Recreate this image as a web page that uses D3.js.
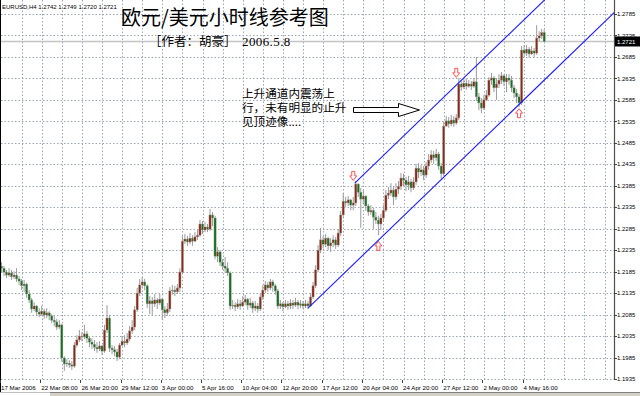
<!DOCTYPE html>
<html><head><meta charset="utf-8">
<script src="https://cdn.jsdelivr.net/npm/d3@7"></script>
<style>html,body{margin:0;padding:0;background:#fff;overflow:hidden}</style>
</head><body>
<script>
// ---------------- DATA ----------------
const symbolInfo = "EURUSD,H4  1.2742 1.2749 1.2720 1.2721";
const chartTitle = "欧元/美元小时线参考图";
const authorText = "［作者：胡豪］";
const dateText = "2006.5.8";
const noteLines = ["上升通道内震荡上", "行，未有明显的止升", "见顶迹像...."];

const firstOpen = 1.2198;
const closes = [1.2193,1.2184,1.2177,1.2182,1.2173,1.2177,1.2168,1.2163,1.2152,1.2156,
1.2133,1.2119,1.2098,1.2105,1.2091,1.2086,1.2093,1.2084,1.2089,1.2082,
1.2072,1.2068,1.2056,1.2061,1.1984,1.1970,1.1972,1.1968,1.1965,1.2014,
1.2026,1.2035,1.2033,1.2040,1.2030,1.2021,1.2016,1.2009,1.2005,1.2012,
1.2000,1.2049,1.2077,1.2007,1.2003,1.1998,1.1986,1.2014,1.2023,1.2019,
1.2028,1.2047,1.2056,1.2096,1.2135,1.2154,1.2161,1.2152,1.2110,1.2117,
1.2110,1.2119,1.2112,1.2121,1.2096,1.2089,1.2098,1.2140,1.2142,1.2138,
1.2147,1.2184,1.2256,1.2261,1.2254,1.2263,1.2256,1.2266,1.2270,1.2296,
1.2282,1.2289,1.2284,1.2317,1.2310,1.2221,1.2231,1.2207,1.2198,1.2193,
1.2182,1.2105,1.2107,1.2103,1.2110,1.2105,1.2114,1.2121,1.2107,1.2112,
1.2100,1.2105,1.2098,1.2126,1.2142,1.2154,1.2147,1.2161,1.2152,1.2140,
1.2105,1.2110,1.2103,1.2110,1.2105,1.2112,1.2107,1.2114,1.2107,1.2110,
1.2105,1.2110,1.2105,1.2126,1.2152,1.2189,1.2235,1.2259,1.2249,1.2263,
1.2245,1.2252,1.2259,1.2247,1.2275,1.2317,1.2349,1.2345,1.2352,1.2340,
1.2345,1.2389,1.2370,1.2354,1.2361,1.2338,1.2324,1.2328,1.2312,1.2305,
1.2296,1.2310,1.2328,1.2363,1.2368,1.2375,1.2359,1.2377,1.2384,1.2403,
1.2398,1.2387,1.2394,1.2380,1.2394,1.2426,1.2417,1.2422,1.2410,1.2431,
1.2445,1.2457,1.2450,1.2459,1.2431,1.2413,1.2524,1.2536,1.2529,1.2538,
1.2531,1.2543,1.2622,1.2615,1.2624,1.2617,1.2622,1.2617,1.2627,1.2592,
1.2578,1.2566,1.2585,1.2596,1.2631,1.2636,1.2613,1.2622,1.2631,1.2641,
1.2627,1.2636,1.2631,1.2613,1.2601,1.2592,1.2578,1.2701,1.2694,1.2703,
1.2692,1.2699,1.2694,1.2729,1.2734,1.2742,1.2721];
const highs = [1.2207,1.2198,1.2189,1.2193,1.2189,1.2186,1.2193,1.2175,1.2168,1.2166,
1.2159,1.2142,1.2124,1.2114,1.2107,1.2100,1.2105,1.2098,1.2100,1.2093,
1.2086,1.2082,1.2075,1.2072,1.2063,1.1988,1.1981,1.1979,1.1977,1.2021,
1.2037,1.2049,1.2044,1.2061,1.2047,1.2035,1.2030,1.2026,1.2021,1.2023,
1.2014,1.2061,1.2107,1.2084,1.2014,1.2012,1.2005,1.2019,1.2035,1.2037,
1.2042,1.2058,1.2072,1.2105,1.2147,1.2168,1.2173,1.2168,1.2156,1.2128,
1.2126,1.2133,1.2124,1.2133,1.2124,1.2105,1.2112,1.2149,1.2154,1.2152,
1.2156,1.2193,1.2268,1.2273,1.2268,1.2275,1.2270,1.2277,1.2284,1.2305,
1.2303,1.2301,1.2296,1.2331,1.2324,1.2315,1.2242,1.2235,1.2214,1.2219,
1.2207,1.2186,1.2119,1.2114,1.2121,1.2119,1.2128,1.2131,1.2124,1.2124,
1.2117,1.2117,1.2112,1.2135,1.2154,1.2163,1.2161,1.2168,1.2166,1.2156,
1.2145,1.2119,1.2114,1.2119,1.2117,1.2121,1.2119,1.2124,1.2119,1.2119,
1.2117,1.2119,1.2117,1.2135,1.2161,1.2200,1.2247,1.2287,1.2268,1.2273,
1.2266,1.2263,1.2270,1.2266,1.2284,1.2326,1.2368,1.2359,1.2361,1.2354,
1.2359,1.2396,1.2391,1.2380,1.2375,1.2363,1.2343,1.2340,1.2333,1.2324,
1.2315,1.2319,1.2340,1.2375,1.2382,1.2391,1.2384,1.2391,1.2396,1.2415,
1.2413,1.2405,1.2408,1.2401,1.2405,1.2436,1.2438,1.2433,1.2431,1.2440,
1.2459,1.2468,1.2466,1.2471,1.2464,1.2438,1.2534,1.2547,1.2545,1.2550,
1.2547,1.2552,1.2636,1.2631,1.2634,1.2634,1.2631,1.2629,1.2636,1.2685,
1.2601,1.2589,1.2596,1.2608,1.2638,1.2648,1.2641,1.2636,1.2645,1.2650,
1.2645,1.2645,1.2645,1.2641,1.2620,1.2610,1.2599,1.2710,1.2713,1.2713,
1.2708,1.2710,1.2706,1.2759,1.2745,1.2750,1.2749];
const lows = [1.2184,1.2175,1.2170,1.2173,1.2166,1.2168,1.2161,1.2154,1.2142,1.2138,
1.2124,1.2112,1.2089,1.2093,1.2082,1.2079,1.2082,1.2075,1.2077,1.2072,
1.2065,1.2058,1.2049,1.2051,1.1975,1.1954,1.1963,1.1961,1.1956,1.1961,
1.2009,1.2021,1.2023,1.2028,1.2019,1.2009,1.2005,1.2000,1.1996,1.2000,
1.1991,1.1996,1.2042,1.1998,1.1993,1.1988,1.1977,1.1981,1.2012,1.2009,
1.2014,1.2023,1.2040,1.2049,1.2091,1.2128,1.2147,1.2142,1.2100,1.2086,
1.2084,1.2103,1.2098,1.2107,1.2072,1.2077,1.2082,1.2091,1.2131,1.2128,
1.2133,1.2138,1.2180,1.2249,1.2245,1.2249,1.2245,1.2254,1.2259,1.2266,
1.2273,1.2277,1.2277,1.2280,1.2291,1.2214,1.2207,1.2198,1.2189,1.2182,
1.2175,1.2096,1.2098,1.2093,1.2098,1.2096,1.2103,1.2107,1.2096,1.2100,
1.2089,1.2093,1.2089,1.2093,1.2119,1.2135,1.2138,1.2142,1.2138,1.2131,
1.2098,1.2098,1.2093,1.2100,1.2096,1.2098,1.2098,1.2103,1.2098,1.2100,
1.2098,1.2100,1.2098,1.2103,1.2121,1.2147,1.2184,1.2228,1.2240,1.2242,
1.2235,1.2231,1.2242,1.2238,1.2242,1.2268,1.2312,1.2336,1.2338,1.2328,
1.2328,1.2338,1.2359,1.2287,1.2343,1.2326,1.2315,1.2317,1.2284,1.2296,
1.2270,1.2282,1.2301,1.2324,1.2354,1.2361,1.2340,1.2352,1.2366,1.2375,
1.2384,1.2373,1.2375,1.2370,1.2375,1.2387,1.2403,1.2408,1.2398,1.2403,
1.2422,1.2438,1.2436,1.2443,1.2422,1.2401,1.2408,1.2522,1.2520,1.2524,
1.2522,1.2527,1.2538,1.2606,1.2610,1.2608,1.2613,1.2608,1.2613,1.2582,
1.2561,1.2554,1.2561,1.2582,1.2592,1.2620,1.2603,1.2585,1.2613,1.2622,
1.2617,1.2603,1.2620,1.2603,1.2589,1.2578,1.2568,1.2573,1.2685,1.2687,
1.2683,1.2690,1.2685,1.2690,1.2722,1.2727,1.2720];

const priceTicks = [1.1935,1.1985,1.2035,1.2085,1.2135,1.2185,1.2235,1.2285,1.2335,
1.2385,1.2435,1.2485,1.2535,1.2585,1.2635,1.2685,1.2735,1.2785];
const timeLabels = ["17 Mar 2006","22 Mar 08:00","26 Mar 20:00","29 Mar 12:00","3 Apr 00:00",
"5 Apr 16:00","10 Apr 04:00","12 Apr 20:00","17 Apr 12:00","20 Apr 04:00","24 Apr 20:00",
"27 Apr 12:00","2 May 00:00","4 May 16:00"];
const barsPerLabel = 16;
const barsPerGrid = 8;
const lastPrice = 1.2721;

// channel trend lines: [bar, price] start and a second point
const channelLower = [[122, 1.2100], [244, 1.2789]];
const channelUpper = [[140.6, 1.2391], [244, 1.2975]];
// red arrow marks
const downMarks = [{bar:140, price:1.2408}, {bar:181, price:1.2648}];
const upMarks = [{bar:150, price:1.2245}, {bar:206, price:1.2554}];

// ---------------- DRAW ----------------
const W = 640, H = 396;
const plotR = 614, plotB = 380;
const svg = d3.select("body").append("svg").attr("width", W).attr("height", H)
  .style("display","block").style("background","#fff");

const x = d3.scaleLinear().domain([0, closes.length - 1]).range([1.5, 544.2]);
const y = d3.scaleLinear().domain([1.1935, 1.2785]).range([379, 14]);

const gridColor = "#9aa6b6";
// horizontal grid
svg.append("g").selectAll("line").data(priceTicks).join("line")
  .attr("x1", 1).attr("x2", plotR)
  .attr("y1", d => Math.round(y(d)) + 0.5).attr("y2", d => Math.round(y(d)) + 0.5)
  .attr("stroke", gridColor).attr("stroke-dasharray", "1.5,2").attr("stroke-width", 1);
// vertical grid
const gridBars = d3.range(barsPerGrid, 245, barsPerGrid).filter(b => x(b) < plotR - 2);
svg.append("g").selectAll("line").data(gridBars).join("line")
  .attr("x1", b => Math.round(x(b)) + 0.5).attr("x2", b => Math.round(x(b)) + 0.5)
  .attr("y1", 0).attr("y2", plotB)
  .attr("stroke", gridColor).attr("stroke-dasharray", "1.5,2").attr("stroke-width", 1);

// current price line
svg.append("line").attr("x1", 1).attr("x2", plotR)
  .attr("y1", y(lastPrice)).attr("y2", y(lastPrice))
  .attr("stroke", "#c4c4c4").attr("stroke-width", 1.6);

// title texts
svg.append("text").attr("x", 2).attr("y", 9).text(symbolInfo)
  .attr("font-family", "Liberation Sans, Arial, sans-serif").attr("font-size", 6).attr("fill", "#000");
svg.append("text").attr("x", 121).attr("y", 25).text(chartTitle)
  .attr("font-family", "Noto Sans CJK SC").attr("font-size", 20).attr("fill", "#000");
svg.append("text").attr("x", 149).attr("y", 46).text(authorText)
  .attr("font-family", "Noto Sans CJK SC").attr("font-size", 12.5).attr("fill", "#000");
svg.append("text").attr("x", 242).attr("y", 46).text(dateText)
  .attr("font-family", "Liberation Serif, serif").attr("font-size", 13).attr("letter-spacing", 0.4).attr("fill", "#000");

// candles
const data = closes.map((c, i) => {
  const o = i === 0 ? firstOpen : closes[i - 1];
  return {i, o, c, h: Math.max(highs[i], o, c), l: Math.min(lows[i], o, c)};
});
const cg = svg.append("g");
cg.selectAll("line.w").data(data).join("line").attr("class", "w")
  .attr("x1", d => x(d.i)).attr("x2", d => x(d.i))
  .attr("y1", d => y(d.h)).attr("y2", d => y(d.l))
  .attr("stroke", "#9a9a9a").attr("stroke-width", 1);
cg.selectAll("rect").data(data).join("rect")
  .attr("x", d => x(d.i) - 1.1).attr("width", 2.2)
  .attr("y", d => y(Math.max(d.o, d.c)))
  .attr("height", d => Math.max(0.8, Math.abs(y(d.o) - y(d.c))))
  .attr("fill", d => d.c > d.o ? "#8a2a12" : (d.c < d.o ? "#17701f" : "#9a9a9a"))
  .attr("stroke", "#a0a0a0").attr("stroke-width", 0.4);

// channel lines (clipped)
svg.append("clipPath").attr("id", "plotclip").append("rect")
  .attr("x", 0).attr("y", 0).attr("width", plotR).attr("height", plotB);
const lineGen = d3.line().x(d => x(d[0])).y(d => y(d[1]));
svg.append("g").attr("clip-path", "url(#plotclip)").selectAll("path")
  .data([channelLower, channelUpper]).join("path")
  .attr("d", lineGen).attr("fill", "none").attr("stroke", "#1a1aff").attr("stroke-width", 1.1);

// red arrows
function arrowPath(cx, cy, dir) {
  const s = dir;
  const pts = [[-1.5, -4.5], [1.5, -4.5], [1.5, 0], [3.5, 0], [0, 4.5], [-3.5, 0], [-1.5, 0]];
  return "M" + pts.map(p => [cx + p[0], cy + s * p[1]].join(",")).join("L") + "Z";
}
svg.append("g").selectAll("path").data(downMarks).join("path")
  .attr("d", d => arrowPath(x(d.bar), y(d.price), 1))
  .attr("fill", "#fff").attr("stroke", "#ff5050").attr("stroke-width", 1);
svg.append("g").selectAll("path").data(upMarks).join("path")
  .attr("d", d => arrowPath(x(d.bar), y(d.price), -1))
  .attr("fill", "#fff").attr("stroke", "#ff5050").attr("stroke-width", 1);

// annotation text (one text block, three lines)
const note = svg.append("text").attr("x", 242).attr("y", 98)
  .attr("font-family", "Noto Sans CJK SC").attr("font-size", 11.6).attr("fill", "#000");
note.selectAll("tspan").data(noteLines).join("tspan")
  .attr("x", 242).attr("dy", (d, i) => i === 0 ? 0 : 14).text(d => d);
// hollow arrow
svg.append("path")
  .attr("d", "M353.5,107.5L398.5,107.5L398.5,103.5L419.5,110L398.5,116.5L398.5,112.5L353.5,112.5Z")
  .attr("fill", "#fff").attr("stroke", "#000").attr("stroke-width", 1);

// frame
svg.append("line").attr("x1", 0.5).attr("x2", 0.5).attr("y1", 0).attr("y2", 392)
  .attr("stroke", "#000").attr("stroke-width", 1);
svg.append("line").attr("x1", plotR + 0.5).attr("x2", plotR + 0.5).attr("y1", 0).attr("y2", plotB)
  .attr("stroke", "#505050").attr("stroke-width", 1.2);

// price axis labels
const yAxisG = svg.append("g");
yAxisG.selectAll("line").data(priceTicks).join("line")
  .attr("x1", plotR).attr("x2", plotR + 3)
  .attr("y1", d => Math.round(y(d)) + 0.5).attr("y2", d => Math.round(y(d)) + 0.5)
  .attr("stroke", "#404040");
yAxisG.selectAll("text").data(priceTicks).join("text")
  .attr("x", 617).attr("y", d => y(d) + 2.2).text(d => d.toFixed(4))
  .attr("font-family", "Liberation Sans, Arial, sans-serif").attr("font-size", 6).attr("fill", "#000");
// current price box
svg.append("rect").attr("x", plotR + 1).attr("y", y(lastPrice) - 5).attr("width", W - plotR - 1).attr("height", 10)
  .attr("fill", "#000");
svg.append("text").attr("x", 617).attr("y", y(lastPrice) + 2.2).text(lastPrice.toFixed(4))
  .attr("font-family", "Liberation Sans, Arial, sans-serif").attr("font-size", 6).attr("fill", "#fff");

// time axis
const tg = svg.append("g");
tg.selectAll("line").data(timeLabels).join("line")
  .attr("x1", (d, k) => Math.round(x(k * barsPerLabel) - 1.5) + 0.5)
  .attr("x2", (d, k) => Math.round(x(k * barsPerLabel) - 1.5) + 0.5)
  .attr("y1", plotB).attr("y2", plotB + 3).attr("stroke", "#404040");
tg.selectAll("text").data(timeLabels).join("text")
  .attr("x", (d, k) => x(k * barsPerLabel) - 0.5).attr("y", 389.5).text(d => d)
  .attr("font-family", "Liberation Sans, Arial, sans-serif").attr("font-size", 6.2).attr("fill", "#000");

// bottom window strip
svg.append("rect").attr("x", 50).attr("y", 392).attr("width", W - 50).attr("height", 4).attr("fill", "#d4d0c8");
svg.append("line").attr("x1", 50).attr("x2", W).attr("y1", 392.5).attr("y2", 392.5).attr("stroke", "#808080");
svg.append("line").attr("x1", 0).attr("x2", 50).attr("y1", 392.5).attr("y2", 392.5).attr("stroke", "#c0c0c0");
</script>
</body></html>
